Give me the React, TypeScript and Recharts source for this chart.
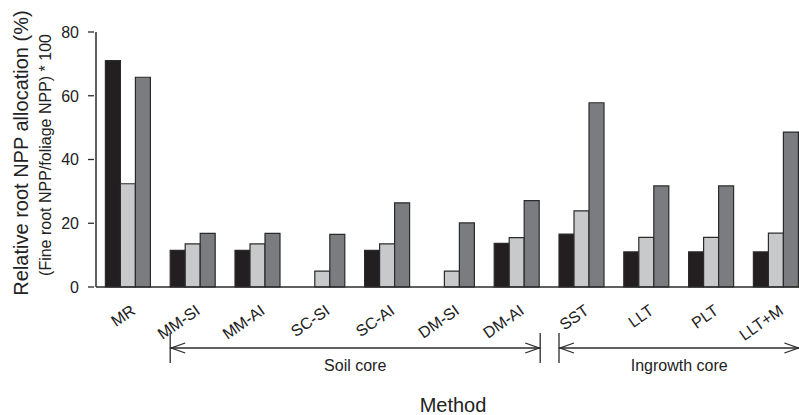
import React from "react"
import { BarChart, Bar, XAxis, YAxis, Label } from "recharts"

// methods along the x axis
const categories = ["MR", "MM-SI", "MM-AI", "SC-SI", "SC-AI", "DM-SI", "DM-AI", "SST", "LLT", "PLT", "LLT+M"]
// three series (black, light grey, dark grey)
const blackVals = [71.0, 11.5, 11.5, 0, 11.5, 0, 13.7, 16.6, 11.0, 11.0, 11.0]
const lightVals = [32.4, 13.5, 13.5, 5.0, 13.5, 5.0, 15.5, 23.9, 15.6, 15.6, 16.9]
const darkVals = [65.8, 16.8, 16.8, 16.5, 26.4, 20.1, 27.1, 57.8, 31.7, 31.7, 48.6]
const yTicks = [0, 20, 40, 60, 80]
// bracket groups under the axis: label, first and last category index
const groupLabels = ["Soil core", "Ingrowth core"]
const groupFrom = [1, 7]
const groupTo = [6, 10]

const data = categories.map((name, i) => ({
  name,
  a: blackVals[i],
  b: lightVals[i],
  c: darkVals[i],
}))

const W = 812
const H = 415
const LEFT = 96
const TOP = 32
const RIGHT = 3.2
const XAXIS_H = 128
const GAP = 9.4
const BAND = (W - LEFT - RIGHT) / categories.length
const FONT = "'Liberation Sans', Arial, Helvetica, sans-serif"
const INK = "#2b2b2b"

function XTick(props: any) {
  const { x, y, payload } = props
  const tx = x + 8
  const ty = y + 18
  return (
    <text
      x={0}
      y={0}
      textAnchor="end"
      fontSize={16}
      fontFamily={FONT}
      fill="#222"
      style={{ transform: `translate(${tx}px, ${ty}px) rotate(-35deg)`, transformOrigin: "0px 0px", transformBox: "view-box" }}
    >
      {payload.value}
    </text>
  )
}

function YTick(props: any) {
  const { x, y, payload } = props
  return (
    <g>
      <line x1={x} x2={x + 6} y1={y} y2={y} stroke={INK} strokeWidth={1.3} />
      <text x={x - 9} y={y} dy="0.36em" textAnchor="end" fontSize={16} fontFamily={FONT} fill="#222">
        {payload.value}
      </text>
    </g>
  )
}

const YTitle = () => (
  <g fontFamily={FONT} fill="#222" textAnchor="middle">
    <text x={28} y={153} transform="rotate(-90 28 153)" fontSize={20}>
      Relative root NPP allocation (%)
    </text>
    <text x={51} y={155} transform="rotate(-90 51 155)" fontSize={16}>
      (Fine root NPP/foliage NPP) * 100
    </text>
  </g>
)

const XTitle = () => (
  <text x={453} y={412} textAnchor="middle" fontSize={20} fontFamily={FONT} fill="#222">
    Method
  </text>
)

function Brackets() {
  const y1 = 333
  const y2 = 363
  const ym = 348
  return (
    <svg width={799} height={H} style={{ position: "absolute", left: 0, top: 0, pointerEvents: "none" }}>
      {groupLabels.map((lab, g) => {
        const xl = LEFT + groupFrom[g] * BAND + GAP
        const xr = LEFT + (groupTo[g] + 1) * BAND - GAP
        return (
          <g key={lab} stroke={INK} strokeWidth={1.3} fill="none">
            <line x1={xl} x2={xl} y1={y1} y2={y2} />
            {g === 0 && <line x1={xr} x2={xr} y1={y1} y2={y2} />}
            <line x1={xl} x2={xr} y1={ym} y2={ym} />
            <polyline points={`${xl + 15},${ym - 5} ${xl + 1},${ym} ${xl + 15},${ym + 5}`} />
            <polyline points={`${xr - 15},${ym - 5} ${xr - 1},${ym} ${xr - 15},${ym + 5}`} />
            <text x={(xl + xr) / 2} y={371} textAnchor="middle" fontSize={16} fontFamily={FONT} fill="#222" stroke="none">
              {lab}
            </text>
          </g>
        )
      })}
    </svg>
  )
}

export default function App() {
  return (
    <div style={{ position: "absolute", left: 0, top: 0, width: 799, height: H, overflow: "hidden", background: "#fff" }}>
      <BarChart
        width={W}
        height={H}
        data={data}
        margin={{ top: TOP, right: RIGHT, bottom: 0, left: 0 }}
        barCategoryGap={GAP}
        barGap={0}
      >
        <XAxis
          dataKey="name"
          type="category"
          interval={0}
          height={XAXIS_H}
          tickLine={false}
          axisLine={{ stroke: INK, strokeWidth: 1.5 }}
          tick={(p: any) => <XTick {...p} />}
        >
          <Label content={<XTitle />} />
        </XAxis>
        <YAxis
          type="number"
          width={LEFT}
          domain={[0, 80]}
          ticks={yTicks}
          tickLine={false}
          axisLine={{ stroke: INK, strokeWidth: 1.5 }}
          tick={(p: any) => <YTick {...p} />}
        >
          <Label content={<YTitle />} />
        </YAxis>
        <Bar dataKey="a" fill="#231f20" stroke={INK} strokeWidth={1.2} isAnimationActive={false} />
        <Bar dataKey="b" fill="#c8c9cb" stroke={INK} strokeWidth={1.2} isAnimationActive={false} />
        <Bar dataKey="c" fill="#7b7c80" stroke={INK} strokeWidth={1.2} isAnimationActive={false} />
      </BarChart>
      <Brackets />
    </div>
  )
}
